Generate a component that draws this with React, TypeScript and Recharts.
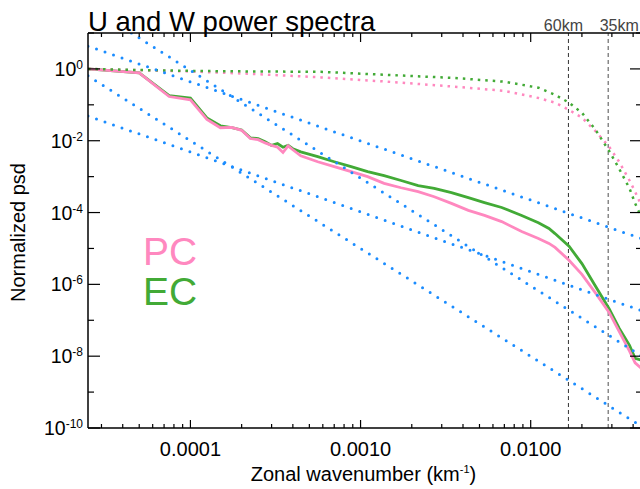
import { LineChart, Line, XAxis, YAxis, ReferenceLine, Label } from 'recharts';

const FONT = '"Liberation Sans", Arial, Helvetica, sans-serif';
const PINK = '#ff88bf';
const GREEN = '#42aa36';
const BLUE = '#1a8cff';

const K_DOMAIN = [2.5e-5, 0.0445];
const PSD_DOMAIN = [1e-10, 10];

// axis ticks (log decades + minor ticks)
const xTicks = [
  3e-5, 4e-5, 5e-5, 6e-5, 7e-5, 8e-5, 9e-5,
  1e-4, 2e-4, 3e-4, 4e-4, 5e-4, 6e-4, 7e-4, 8e-4, 9e-4,
  1e-3, 2e-3, 3e-3, 4e-3, 5e-3, 6e-3, 7e-3, 8e-3, 9e-3,
  1e-2, 2e-2, 3e-2, 4e-2,
];
const xMajor = [1e-4, 1e-3, 1e-2];
const xMajorLabels = ['0.0001', '0.0010', '0.0100'];
const yTicks = [1e-10, 1e-9, 1e-8, 1e-7, 1e-6, 1e-5, 1e-4, 1e-3, 1e-2, 1e-1, 1, 10];

// U spectra (solid)
const kSolid = [
  2.5e-5, 5e-5, 7.5e-5, 1e-4, 1.25e-4, 1.5e-4, 1.75e-4, 2e-4, 2.25e-4, 2.5e-4,
  2.75e-4, 3e-4, 3.25e-4, 3.5e-4, 3.75e-4, 4e-4, 4.45e-4, 5.6e-4, 7e-4, 8.8e-4,
  1.1e-3, 1.375e-3, 1.73e-3, 2.18e-3, 2.71e-3, 3.42e-3, 4.3e-3, 5.35e-3, 6.75e-3, 8.85e-3,
  1.11e-2, 1.28e-2, 1.39e-2, 1.68e-2, 2.0e-2, 2.39e-2, 2.89e-2, 3.31e-2, 3.81e-2, 4.11e-2, 4.45e-2,
];
const ecSolid = [
  1.0, 0.78, 0.18, 0.155, 0.043, 0.026, 0.023, 0.02, 0.012, 0.0115,
  0.0093, 0.0074, 0.0083, 0.0066, 0.0074, 0.006, 0.0049, 0.0036, 0.0026, 0.0019,
  0.00138, 0.00107, 7.8e-4, 5.6e-4, 4.7e-4, 3.6e-4, 2.6e-4, 1.9e-4, 1.38e-4, 8.3e-5,
  5.2e-5, 3.6e-5, 2.6e-5, 1.15e-5, 3.8e-6, 9.3e-7, 2.1e-7, 6.0e-8, 2.0e-8, 8.7e-9, 7.8e-9,
];
const pcSolid = [
  1.0, 0.78, 0.17, 0.138, 0.039, 0.023, 0.0235, 0.0195, 0.0115, 0.0107,
  0.0087, 0.0074, 0.0066, 0.0047, 0.0072, 0.0056, 0.0038, 0.0026, 0.0019, 0.00138,
  0.001, 6.5e-4, 4.9e-4, 3.8e-4, 2.75e-4, 1.8e-4, 1.15e-4, 8.3e-5, 5.6e-5, 2.95e-5,
  1.9e-5, 1.38e-5, 1.07e-5, 4.7e-6, 1.9e-6, 6.0e-7, 1.66e-7, 4.9e-8, 1.38e-8, 6.5e-9, 4.7e-9,
];

// W spectra (dotted)
const kW = [
  2.5e-5, 5e-5, 1e-4, 2.25e-4, 5.85e-4, 1.45e-3, 3.56e-3, 7.0e-3, 1.11e-2, 1.39e-2,
  1.68e-2, 2.0e-2, 2.39e-2, 2.89e-2, 3.31e-2, 3.81e-2, 4.11e-2, 4.45e-2,
];
const ecW = [
  1.0, 0.93, 0.88, 0.85, 0.83, 0.68, 0.56, 0.44, 0.3, 0.19,
  0.115, 0.06, 0.021, 5.2e-3, 1.66e-3, 4.7e-4, 1.8e-4, 7.8e-5,
];
const pcW = [
  1.0, 0.92, 0.85, 0.73, 0.58, 0.44, 0.32, 0.245, 0.155, 0.115,
  0.072, 0.044, 0.019, 6.8e-3, 2.6e-3, 7.8e-4, 3.8e-4, 1.66e-4,
];

// power-law guide lines (k^-5/3 and k^-3)
const guideK = [2.5e-5, 4.45e-2];
const guideUpper53 = [4.3, 1.9e-5];
const guideLower53 = [0.049, 1.87e-7];
const guideUpper3K = [4.5e-5, 4.45e-2];
const guideUpper3 = [10, 1.03e-8];
const guideLower3 = [0.64, 1.13e-10];

const rows = (ks: number[], vs: number[]) => ks.map((k, i) => ({ k, psd: vs[i] }));

const near = (a: number, b: number) => Math.abs(a - b) / b < 1e-6;

function BottomTick(props: any) {
  const { x, y, payload } = props;
  const idx = xMajor.findIndex((m) => near(payload.value, m));
  const major = idx >= 0;
  return (
    <g>
      <path d={`M${x},${y}v${major ? -8 : -4}`} stroke="#000" strokeWidth={1.2} fill="none" />
      {major && (
        <text x={x} y={y + 28} textAnchor="middle" fontSize={20} fontFamily={FONT} fill="#000">
          {xMajorLabels[idx]}
        </text>
      )}
    </g>
  );
}

function TopTick(props: any) {
  const { x, y, payload } = props;
  const major = xMajor.some((m) => near(payload.value, m));
  return <path d={`M${x},${y}v${major ? 9 : 4}`} stroke="#000" strokeWidth={1.2} fill="none" />;
}

function LeftTick(props: any) {
  const { x, y, payload } = props;
  const exp = Math.round(Math.log10(payload.value));
  const major = exp % 2 === 0;
  return (
    <g>
      <path d={`M${x},${y}h${major ? 12 : 6}`} stroke="#000" strokeWidth={1.2} fill="none" />
      {major && (
        <text x={x - 5} y={y + 7} textAnchor="end" fontSize={19.5} fontFamily={FONT} fill="#000">
          10
          <tspan dy={-7} fontSize={12}>
            {exp}
          </tspan>
        </text>
      )}
    </g>
  );
}

function RightTick(props: any) {
  const { x, y, payload } = props;
  const exp = Math.round(Math.log10(payload.value));
  const major = exp % 2 === 0;
  return <path d={`M${x},${y}h${major ? -11 : -5}`} stroke="#000" strokeWidth={1.2} fill="none" />;
}

function XTitle(props: any) {
  const vb = props.viewBox;
  return (
    <text x={vb.x + vb.width / 2 - 1} y={vb.y + 53} textAnchor="middle" fontSize={20} fontFamily={FONT} fill="#000">
      Zonal wavenumber (km
      <tspan dy={-8} fontSize={11}>
        -1
      </tspan>
      <tspan dy={8}>)</tspan>
    </text>
  );
}

function YTitle(props: any) {
  const vb = props.viewBox;
  const cx = vb.x + 25;
  const cy = vb.y + vb.height / 2 + 2;
  return (
    <text
      x={cx}
      y={cy}
      transform={`rotate(-90 ${cx} ${cy})`}
      textAnchor="middle"
      fontSize={20}
      fontFamily={FONT}
      fill="#000"
    >
      Normalized psd
    </text>
  );
}

const axisLine = { stroke: '#000', strokeWidth: 1.5 };

export default function App() {
  return (
    <div style={{ position: 'absolute', left: 0, top: 0, width: 640, height: 489, overflow: 'hidden', background: '#fff' }}>
      <div
        style={{
          position: 'absolute',
          left: 88,
          top: 8,
          fontFamily: FONT,
          fontSize: 27.5,
          lineHeight: '28px',
          color: '#000',
          whiteSpace: 'nowrap',
        }}
      >
        U and W power spectra
      </div>
      <div style={{ position: 'absolute', left: 143, top: 232, fontFamily: FONT, fontSize: 39, lineHeight: '39px', color: PINK, zIndex: 2 }}>
        PC
      </div>
      <div style={{ position: 'absolute', left: 143, top: 272, fontFamily: FONT, fontSize: 39, lineHeight: '39px', color: GREEN, zIndex: 2 }}>
        EC
      </div>
      <LineChart width={642} height={489} margin={{ top: 32, right: 0, bottom: 0, left: 0 }}>
        <XAxis
          dataKey="k"
          type="number"
          scale="log"
          domain={K_DOMAIN}
          allowDataOverflow
          ticks={xTicks}
          interval={0}
          height={61}
          tickSize={0}
          tickMargin={0}
          tickLine={false}
          axisLine={axisLine}
          tick={(p: any) => <BottomTick {...p} />}
        >
          <Label content={XTitle} />
        </XAxis>
        <XAxis
          xAxisId="top"
          orientation="top"
          dataKey="k"
          type="number"
          scale="log"
          domain={K_DOMAIN}
          allowDataOverflow
          ticks={xTicks}
          interval={0}
          height={1}
          tickSize={0}
          tickMargin={0}
          tickLine={false}
          axisLine={axisLine}
          tick={(p: any) => <TopTick {...p} />}
        />
        <YAxis
          type="number"
          scale="log"
          domain={PSD_DOMAIN}
          allowDataOverflow
          ticks={yTicks}
          interval={0}
          width={88}
          tickSize={0}
          tickMargin={0}
          tickLine={false}
          axisLine={axisLine}
          tick={(p: any) => <LeftTick {...p} />}
        >
          <Label content={YTitle} />
        </YAxis>
        <YAxis
          yAxisId="right"
          orientation="right"
          type="number"
          scale="log"
          domain={PSD_DOMAIN}
          allowDataOverflow
          ticks={yTicks}
          interval={0}
          width={1}
          tickSize={0}
          tickMargin={0}
          tickLine={false}
          axisLine={axisLine}
          tick={(p: any) => <RightTick {...p} />}
        />

        <ReferenceLine
          x={1 / 60}
          stroke="#333"
          strokeDasharray="4 3"
          label={{ value: '60km', position: 'top', offset: 2, dx: -5, fill: '#444', fontSize: 16, fontFamily: FONT }}
        />
        <ReferenceLine
          x={1 / 35}
          stroke="#888"
          strokeWidth={1.5}
          strokeDasharray="4 3"
          label={{ value: '35km', position: 'top', offset: 2, dx: 11, fill: '#444', fontSize: 16, fontFamily: FONT }}
        />

        {/* invisible carrier so the mirrored top/right axes are drawn */}
        <Line xAxisId="top" yAxisId="right" data={rows(kW, ecW)} dataKey="psd" stroke="none" dot={false} isAnimationActive={false} />

        <Line data={rows(kSolid, ecSolid)} dataKey="psd" stroke={GREEN} strokeWidth={2.8} dot={false} isAnimationActive={false} />
        <Line data={rows(kSolid, pcSolid)} dataKey="psd" stroke={PINK} strokeWidth={2.8} dot={false} isAnimationActive={false} />
        <Line data={rows(kW, pcW)} dataKey="psd" stroke={PINK} strokeWidth={2.5} strokeDasharray="2.5 5" dot={false} isAnimationActive={false} />
        <Line data={rows(kW, ecW)} dataKey="psd" stroke={GREEN} strokeWidth={2.5} strokeDasharray="2.5 5" dot={false} isAnimationActive={false} />

        <Line data={rows(guideK, guideUpper53)} dataKey="psd" stroke={BLUE} strokeWidth={3} strokeLinecap="round" strokeDasharray="0 9" dot={false} isAnimationActive={false} />
        <Line data={rows(guideK, guideLower53)} dataKey="psd" stroke={BLUE} strokeWidth={3} strokeLinecap="round" strokeDasharray="0 9" dot={false} isAnimationActive={false} />
        <Line data={rows(guideUpper3K, guideUpper3)} dataKey="psd" stroke={BLUE} strokeWidth={3} strokeLinecap="round" strokeDasharray="0 9" dot={false} isAnimationActive={false} />
        <Line data={rows(guideK, guideLower3)} dataKey="psd" stroke={BLUE} strokeWidth={3} strokeLinecap="round" strokeDasharray="0 9" dot={false} isAnimationActive={false} />
      </LineChart>
    </div>
  );
}
